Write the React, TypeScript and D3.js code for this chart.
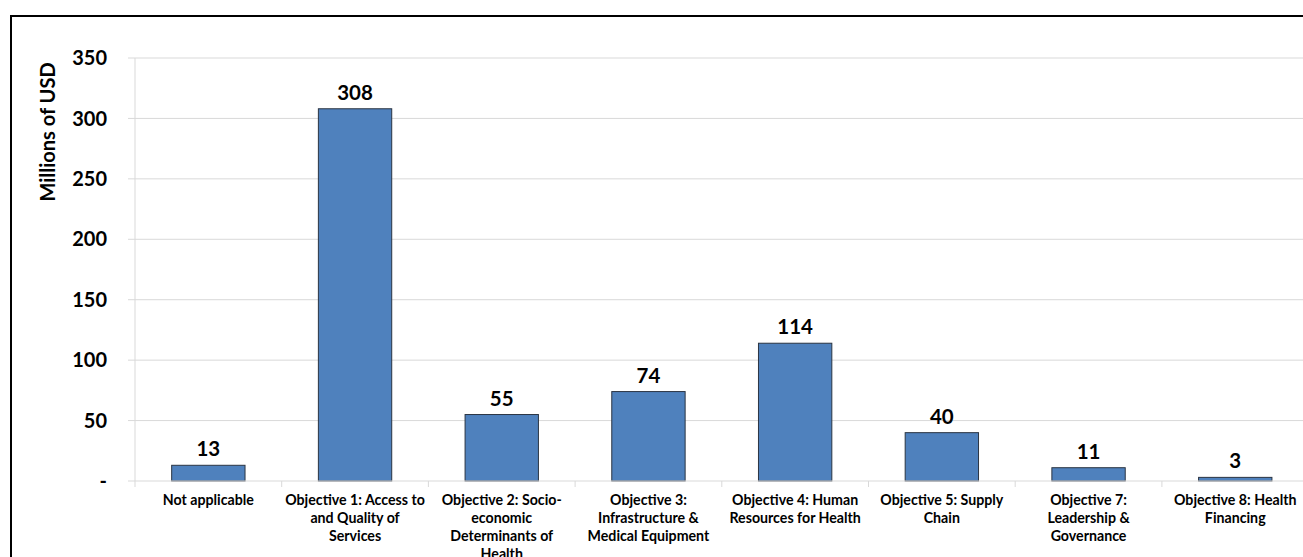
import React from "react";
import * as d3 from "d3";

// Funding by strategic objective (millions of USD)
const categories = [
  "Not applicable",
  "Objective 1: Access to\nand Quality of\nServices",
  "Objective 2: Socio-\neconomic\nDeterminants of\nHealth",
  "Objective 3:\nInfrastructure &\nMedical Equipment",
  "Objective 4: Human\nResources for Health",
  "Objective 5: Supply\nChain",
  "Objective 7:\nLeadership &\nGovernance",
  "Objective 8: Health\nFinancing",
];
const values = [13, 308, 55, 74, 114, 40, 11, 3];
const yTicks = [0, 50, 100, 150, 200, 250, 300, 350];
const yTickLabels = ["-", "50", "100", "150", "200", "250", "300", "350"];
const yTitle = "Millions of USD";

const W = 1303;
const H = 557;
const FONT = "Lato, 'Open Sans', sans-serif";

export default function App() {
  const left = 135;
  const bandW = 146.7;
  const x = d3
    .scaleBand<string>()
    .domain(categories)
    .range([left, left + bandW * categories.length])
    .paddingInner(0.5)
    .paddingOuter(0.25);
  const y = d3.scaleLinear().domain([0, 350]).range([481, 58]);

  const gridRight = W + 20;

  return (
    <svg
      width={W}
      height={H}
      style={{ position: "absolute", left: 0, top: 0, background: "#fff" }}
    >
      {/* frame */}
      <rect x={11} y={16} width={W + 20} height={H + 20} fill="none" stroke="#000" strokeWidth={2} />

      {/* gridlines */}
      {yTicks.slice(1).map((t) => (
        <line key={t} x1={128} x2={gridRight} y1={y(t)} y2={y(t)} stroke="#D9D9D9" strokeWidth={1} />
      ))}

      {/* y axis */}
      <line x1={left} x2={left} y1={y(350)} y2={y(0)} stroke="#D9D9D9" strokeWidth={1} />

      {/* y tick labels */}
      {yTicks.map((t, i) => (
        <text
          key={t}
          x={107}
          y={y(t)}
          dy="0.36em"
          textAnchor="end"
          fontFamily={FONT}
          fontWeight="bold"
          fontSize={20}
          fill="#000"
        >
          {yTickLabels[i]}
        </text>
      ))}

      {/* y axis title */}
      <text
        transform={`translate(55,132) rotate(-90)`}
        textAnchor="middle"
        fontFamily={FONT}
        fontWeight="bold"
        fontSize={20}
        fill="#000"
      >
        {yTitle}
      </text>

      {/* bars */}
      {values.map((v, i) => {
        const c = categories[i];
        const bx = x(c)!;
        return (
          <g key={c}>
            <rect
              x={bx}
              y={y(v)}
              width={x.bandwidth()}
              height={y(0) - y(v)}
              fill="#4F81BD"
              stroke="#2A3442"
              strokeWidth={1}
            />
            <text
              x={bx + x.bandwidth() / 2}
              y={y(v) - 9}
              textAnchor="middle"
              fontFamily={FONT}
              fontWeight="bold"
              fontSize={20.5}
              fill="#000"
            >
              {v}
            </text>
          </g>
        );
      })}

      {/* x axis */}
      <line x1={128} x2={gridRight} y1={y(0)} y2={y(0)} stroke="#D9D9D9" strokeWidth={1} />
      {categories.map((c, i) => {
        const bx = left + bandW * i;
        return <line key={c} x1={bx} x2={bx} y1={y(0)} y2={y(0) + 6} stroke="#D9D9D9" strokeWidth={1} />;
      })}

      {/* category labels */}
      {categories.map((c) => {
        const cx = x(c)! + x.bandwidth() / 2;
        return (
          <text
            key={c}
            textAnchor="middle"
            fontFamily={FONT}
            fontWeight="bold"
            fontSize={14.2}
            fill="#000"
          >
            {c.split("\n").map((line, j) => (
              <tspan key={j} x={cx} y={505 + j * 18}>
                {line}
              </tspan>
            ))}
          </text>
        );
      })}
    </svg>
  );
}
